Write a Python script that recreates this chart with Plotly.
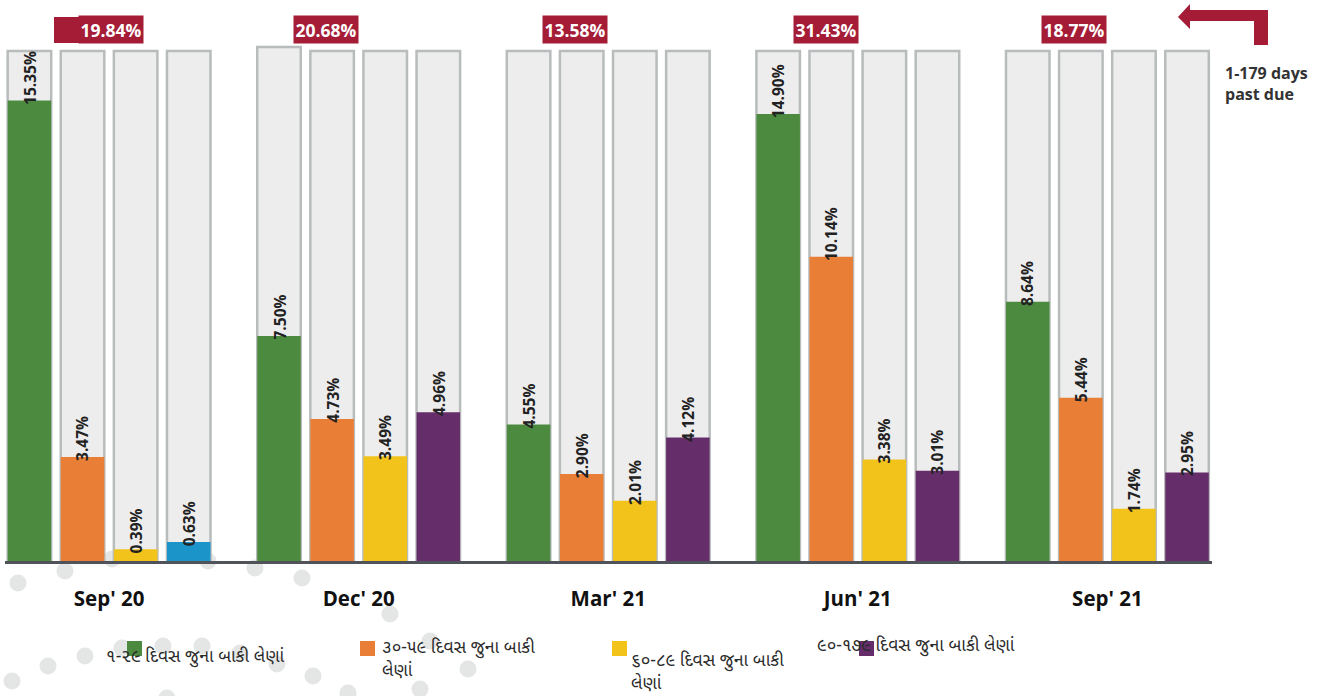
import plotly.graph_objects as go

# ---------------- data ----------------
periods = ["Sep' 20", "Dec' 20", "Mar' 21", "Jun' 21", "Sep' 21"]
totals = ["19.84%", "20.68%", "13.58%", "31.43%", "18.77%"]
series_names = [
    "૧-૨૯ દિવસ જુના બાકી લેણાં",
    "૩૦-૫૯ દિવસ જુના બાકી લેણાં",
    "૬૦-૮૯ દિવસ જુના બાકી લેણાં",
    "૯૦-૧૭૯ દિવસ જુના બાકી લેણાં",
]
d_1_29 = [15.35, 7.50, 4.55, 14.90, 8.64]
d_30_59 = [3.47, 4.73, 2.90, 10.14, 5.44]
d_60_89 = [0.39, 3.49, 2.01, 3.38, 1.74]
d_90_179 = [0.63, 4.96, 4.12, 3.01, 2.95]
# background "track" bars
track_1_29 = [17.0, 17.13, 17.0, 17.0, 17.0]
track_30_59 = [17.0, 17.0, 17.0, 17.0, 17.0]
track_60_89 = [17.0, 17.0, 17.0, 17.0, 17.0]
track_90_179 = [17.0, 17.0, 17.0, 17.0, 17.0]
side_note = "1-179 days<br>past due"

# ---------------- styles ----------------
GREEN = "#4c8b3f"
ORANGE = "#e97f36"
YELLOW = "#f2c31b"
PURPLE = "#652d6a"
BLUE = "#1a94c9"
RED = "#a51c36"
TRACK_FILL = "#ededed"
TRACK_LINE = "#b8bcbc"
DOT = "#e4e5e5"
series_colors = [
    [GREEN] * 5,
    [ORANGE] * 5,
    [YELLOW] * 5,
    [BLUE, PURPLE, PURPLE, PURPLE, PURPLE],
]
values = [d_1_29, d_30_59, d_60_89, d_90_179]
tracks = [track_1_29, track_30_59, track_60_89, track_90_179]

W, H = 1339, 696
ML, MR, MT, MB = 5, 127, 0, 135
PLOT_W = W - ML - MR
PLOT_H = H - MT - MB
GROUP_STEP = 4.7
BAR_W = 0.82
XRANGE = [-0.46, 22.27]
YRANGE = [0, 18.7]
box_offsets = [1.54, 0.88, 0.87, 0.9, 0.87]

GUJ_FONT = "Noto Sans Gujarati, Noto Sans, Open Sans, sans-serif"
BOLD_FONT = "Open Sans, Noto Sans, sans-serif"


def px_x(px):
    return (px - ML) / PLOT_W


def px_y(py):
    return (MT + PLOT_H - py) / PLOT_H


fig = go.Figure()

# background track bars
for j in range(4):
    xs = [GROUP_STEP * i + j for i in range(len(periods))]
    fig.add_trace(go.Bar(
        x=xs, y=tracks[j], width=BAR_W,
        marker=dict(color=TRACK_FILL, line=dict(color=TRACK_LINE, width=2.5)),
        showlegend=False, hoverinfo="skip",
    ))

# value bars
for j in range(4):
    xs = [GROUP_STEP * i + j for i in range(len(periods))]
    fig.add_trace(go.Bar(
        x=xs, y=values[j], width=BAR_W, name=series_names[j],
        marker=dict(color=series_colors[j], line=dict(width=0)),
        showlegend=False,
    ))

annotations = []
shapes = []

# value labels (rotated)
for j in range(4):
    for i, v in enumerate(values[j]):
        annotations.append(dict(
            x=GROUP_STEP * i + j, y=v, xref="x", yref="y",
            text=f"<b>{v:.2f}%</b>", textangle=-90, showarrow=False,
            xanchor="center", yanchor="bottom", yshift=-6,
            font=dict(family=BOLD_FONT, size=15.5, color="#222222"),
        ))

# total boxes
shapes.append(dict(
    type="rect", xref="paper", yref="paper",
    x0=px_x(54), x1=px_x(112), y0=px_y(43), y1=px_y(17),
    fillcolor=RED, line=dict(width=0), layer="above",
))
for i, t in enumerate(totals):
    annotations.append(dict(
        x=GROUP_STEP * i + box_offsets[i], y=px_y(30), xref="x", yref="paper",
        text=f"<b>{t}</b>", showarrow=False, bgcolor=RED, borderpad=1.5,
        xanchor="center", yanchor="middle",
        font=dict(family=BOLD_FONT, size=17.5, color="white"),
    ))

# arrow
arrow_pts = [(1178, 17), (1190, 4), (1190, 10), (1268, 10), (1268, 45),
             (1254, 45), (1254, 21), (1190, 21), (1190, 29)]
path = "M " + " L ".join(f"{px_x(a):.5f},{px_y(b):.5f}" for a, b in arrow_pts) + " Z"
shapes.append(dict(type="path", xref="paper", yref="paper", path=path,
                   fillcolor=RED, line=dict(width=0)))
annotations.append(dict(
    x=px_x(1223), y=px_y(60), xref="paper", yref="paper", text=f"<b>{side_note}</b>",
    showarrow=False, xanchor="left", yanchor="top", align="left",
    font=dict(family=BOLD_FONT, size=16, color="#333333"),
))

# decorative dots
dots = [(18, 583), (65, 571), (112, 559), (208, 561), (255, 568), (302, 578),
        (390, 614), (430, 641), (468, 669), (420, 689), (348, 693), (313, 676),
        (277, 664), (240, 653), (202, 646), (163, 646), (122, 648), (85, 656),
        (48, 666), (12, 681), (167, 698)]
for cx, cy in dots:
    shapes.append(dict(type="circle", xref="paper", yref="paper",
                       x0=px_x(cx - 8.5), x1=px_x(cx + 8.5),
                       y0=px_y(cy + 8.5), y1=px_y(cy - 8.5),
                       fillcolor=DOT, line=dict(width=0), layer="below"))

# custom legend
leg_squares = [(127, 641), (360, 641), (612, 641), (859, 641)]
leg_colors = [GREEN, ORANGE, YELLOW, PURPLE]
leg_texts = [
    dict(x=104, y=657, text=series_names[0], anchor="middle"),
    dict(x=380, y=635, text="૩૦-૫૯ દિવસ જુના બાકી<br>લેણાં", anchor="top"),
    dict(x=629, y=648, text="૬૦-૮૯ દિવસ જુના બાકી<br>લેણાં", anchor="top"),
    dict(x=815, y=646, text=series_names[3], anchor="middle"),
]
for lt in leg_texts:
    annotations.append(dict(
        x=px_x(lt["x"]), y=px_y(lt["y"]), xref="paper", yref="paper",
        text=lt["text"], showarrow=False, xanchor="left", yanchor=lt["anchor"],
        align="left", font=dict(family=GUJ_FONT, size=17.5, color="#2a2a2a"),
    ))
for (sx, sy), c in zip(leg_squares, leg_colors):
    shapes.append(dict(type="rect", xref="paper", yref="paper",
                       x0=px_x(sx), x1=px_x(sx + 15), y0=px_y(sy + 15), y1=px_y(sy),
                       fillcolor=c, line=dict(width=0), layer="above"))

fig.update_layout(
    width=W, height=H,
    margin=dict(l=ML, r=MR, t=MT, b=MB),
    paper_bgcolor="white", plot_bgcolor="white",
    barmode="overlay", showlegend=False,
    xaxis=dict(
        range=XRANGE, showgrid=False, zeroline=False,
        showline=True, linecolor="#50535a", linewidth=2.5,
        tickmode="array",
        tickvals=[GROUP_STEP * i + 1.5 for i in range(len(periods))],
        ticktext=[f"<b>{p}</b>" for p in periods],
        ticks="", ticklabelstandoff=18,
        tickfont=dict(family=BOLD_FONT, size=20.5, color="#111111"),
        fixedrange=True,
    ),
    yaxis=dict(range=YRANGE, visible=False, fixedrange=True),
    annotations=annotations,
    shapes=shapes,
)

fig.write_html(
    "out.html",
    config={"displayModeBar": False},
    post_script="document.body.style.margin='0px';document.body.style.overflow='hidden';",
)
